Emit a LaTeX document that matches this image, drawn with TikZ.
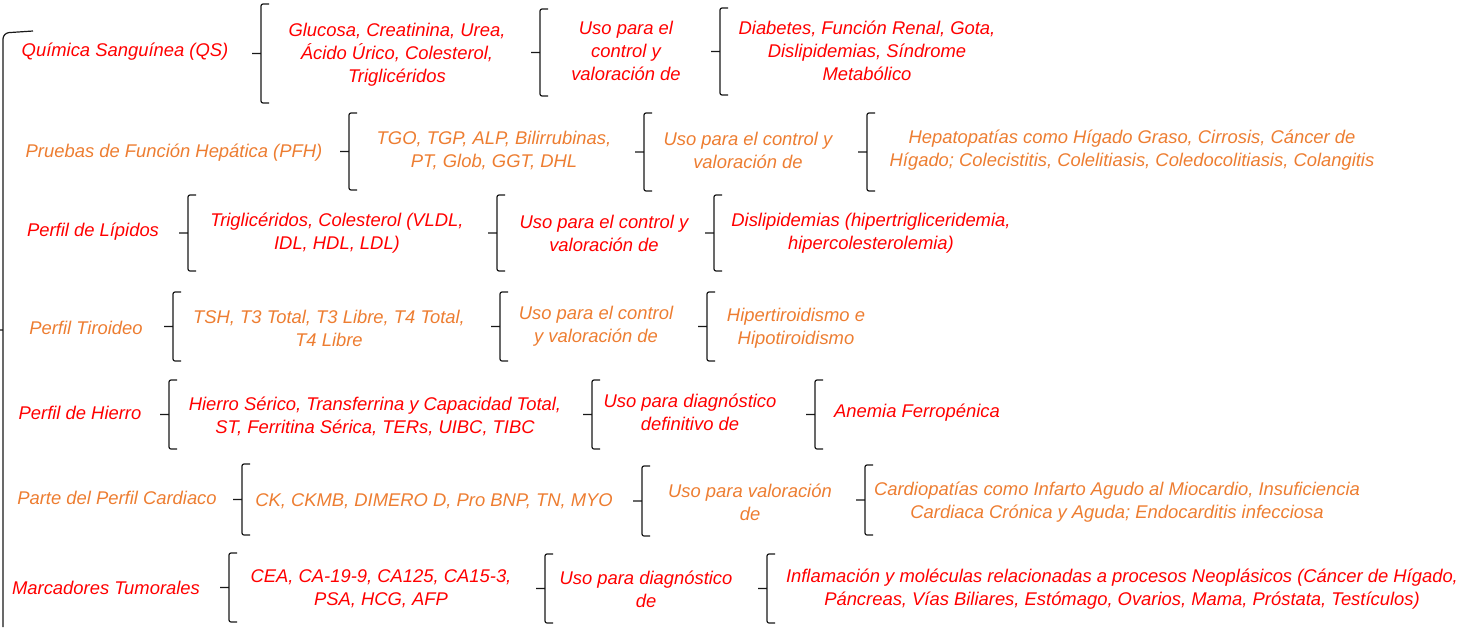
\documentclass[tikz,border=0pt]{standalone}
\usepackage{fontspec}
\setmainfont{Liberation Sans}
\usetikzlibrary{calc}
\definecolor{labred}{HTML}{FF0000}
\definecolor{laborange}{HTML}{ED7D31}
\tikzset{
  bracket/.style={draw=black!90,line width=1.2pt,rounded corners=2pt,
    to path={(\tikztostart) ++(8,0) -- (\tikztostart) -- (\tikztotarget) -- ++(8,0)
      ($(\tikztostart)!0.5!(\tikztotarget)$) -- ++(-9,0)}},
  bigbracket/.style={draw=black!90,line width=1.2pt,rounded corners=6pt,
    to path={(\tikztostart) ++(30,-2) -- (\tikztostart) -- (\tikztotarget)
      ($(\tikztostart)!0.5!(\tikztotarget)$) -- ++(-9,0)}}
}
\begin{document}
\begin{tikzpicture}[x=1pt,y=-1pt,
    every node/.style={inner sep=0pt,align=center,font=\itshape\fontsize{18.4}{23}\selectfont}]
\clip (0,0) rectangle (1468,627);
\begin{scope}[every node/.append style={text=labred}]
    \node (L1) at (125,52) {Química Sanguínea (QS)};
    \node (T1) at (397,55) {Glucosa, Creatinina, Urea,\\Ácido Úrico, Colesterol,\\Triglicéridos};
    \node (U1) at (626,51) {Uso para el\\control y\\valoración de};
    \node (D1) at (867,51) {Diabetes, Función Renal, Gota,\\Dislipidemias, Síndrome\\Metabólico};
    \node (L3) at (93,232) {Perfil de Lípidos};
    \node (T3) at (337,233) {Triglicéridos, Colesterol (VLDL,\\IDL, HDL, LDL)};
    \node (U3) at (604,233) {Uso para el control y\\valoración de};
    \node (D3) at (871,233) {Dislipidemias (hipertrigliceridemia,\\hipercolesterolemia)};
    \node (L5) at (80,413) {Perfil de Hierro};
    \node (T5) at (375,416) {Hierro Sérico, Transferrina y Capacidad Total,\\ST, Ferritina Sérica, TERs, UIBC, TIBC};
    \node (U5) at (690,412) {Uso para diagnóstico\\definitivo de};
    \node (D5) at (917,413) {Anemia Ferropénica};
    \node (L7) at (106,588) {Marcadores Tumorales};
    \node (T7) at (381,589) {CEA, CA-19-9, CA125, CA15-3,\\PSA, HCG, AFP};
    \node (U7) at (646,589) {Uso para diagnóstico\\de};
    \node (D7) at (1122,589) {Inflamación y moléculas relacionadas a procesos Neoplásicos (Cáncer de Hígado,\\Páncreas, Vías Biliares, Estómago, Ovarios, Mama, Próstata, Testículos)};
\end{scope}
\begin{scope}[every node/.append style={text=laborange}]
    \node (L2) at (174,153) {Pruebas de Función Hepática (PFH)};
    \node (T2) at (494,151) {TGO, TGP, ALP, Bilirrubinas,\\PT, Glob, GGT, DHL};
    \node (U2) at (748,150) {Uso para el control y\\valoración de};
    \node (D2) at (1132,150) {Hepatopatías como Hígado Graso, Cirrosis, Cáncer de\\Hígado; Colecistitis, Colelitiasis, Coledocolitiasis, Colangitis};
    \node (L4) at (86,328) {Perfil Tiroideo};
    \node (T4) at (329,328) {TSH, T3 Total, T3 Libre, T4 Total,\\T4 Libre};
    \node (U4) at (596,326) {Uso para el control\\y valoración de};
    \node (D4) at (796,328) {Hipertiroidismo e\\Hipotiroidismo};
    \node (L6) at (117,498) {Parte del Perfil Cardiaco};
    \node (T6) at (434,501) {CK, CKMB, DIMERO D, Pro BNP, TN, MYO};
    \node (U6) at (750,502) {Uso para valoración\\de};
    \node (D6) at (1117,502) {Cardiopatías como Infarto Agudo al Miocardio, Insuficiencia\\Cardiaca Crónica y Aguda; Endocarditis infecciosa};
\end{scope}
% bracket ends
\coordinate (G1) at (3,33);   \coordinate (G2) at (3,627);
\coordinate (A1) at (261,4);  \coordinate (A2) at (261,103);
\coordinate (B1) at (540,9);  \coordinate (B2) at (540,96);
\coordinate (C1) at (720,8);  \coordinate (C2) at (720,95);
\coordinate (E1) at (349,113); \coordinate (E2) at (349,190);
\coordinate (F1) at (644,113); \coordinate (F2) at (644,191);
\coordinate (H1) at (867,113); \coordinate (H2) at (867,191);
\coordinate (I1) at (188,195); \coordinate (I2) at (188,271);
\coordinate (J1) at (497,195); \coordinate (J2) at (497,271);
\coordinate (K1) at (714,195); \coordinate (K2) at (714,271);
\coordinate (M1) at (173,292); \coordinate (M2) at (173,361);
\coordinate (N1) at (500,292); \coordinate (N2) at (500,361);
\coordinate (O1) at (707,292); \coordinate (O2) at (707,361);
\coordinate (P1) at (169,380); \coordinate (P2) at (169,449);
\coordinate (Q1) at (592,380); \coordinate (Q2) at (592,449);
\coordinate (R1) at (815,380); \coordinate (R2) at (815,449);
\coordinate (S1) at (242,464); \coordinate (S2) at (242,535);
\coordinate (V1) at (642,466); \coordinate (V2) at (642,536);
\coordinate (W1) at (865,465); \coordinate (W2) at (865,535);
\coordinate (X1) at (229,553); \coordinate (X2) at (229,622);
\coordinate (Y1) at (545,554); \coordinate (Y2) at (545,623);
\coordinate (Z1) at (767,554); \coordinate (Z2) at (767,623);
\path (G1) edge [bigbracket] (G2);
\begin{scope}[every edge/.style={bracket}]
    \path (A1) edge (A2);
    \path (B1) edge (B2);
    \path (C1) edge (C2);
    \path (E1) edge (E2);
    \path (F1) edge (F2);
    \path (H1) edge (H2);
    \path (I1) edge (I2);
    \path (J1) edge (J2);
    \path (K1) edge (K2);
    \path (M1) edge (M2);
    \path (N1) edge (N2);
    \path (O1) edge (O2);
    \path (P1) edge (P2);
    \path (Q1) edge (Q2);
    \path (R1) edge (R2);
    \path (S1) edge (S2);
    \path (V1) edge (V2);
    \path (W1) edge (W2);
    \path (X1) edge (X2);
    \path (Y1) edge (Y2);
    \path (Z1) edge (Z2);
\end{scope}
\end{tikzpicture}
\end{document}
